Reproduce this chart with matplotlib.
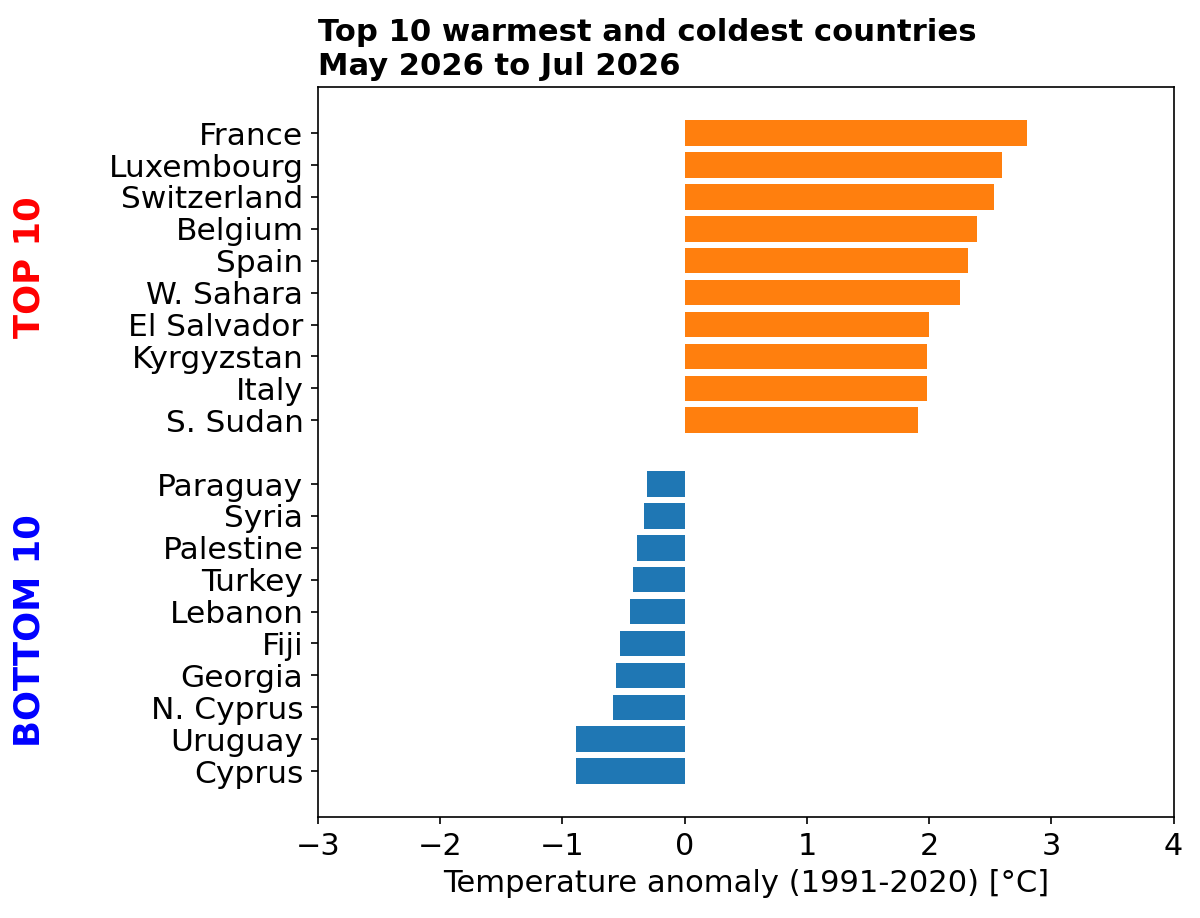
import matplotlib
matplotlib.use("Agg")
import matplotlib.pyplot as plt
import matplotlib.transforms as mtransforms
import numpy as np


top_countries = ["France", "Luxembourg", "Switzerland", "Belgium", "Spain",
                 "W. Sahara", "El Salvador", "Kyrgyzstan", "Italy", "S. Sudan"]
top_values = [2.80, 2.60, 2.53, 2.39, 2.32, 2.25, 2.00, 1.98, 1.98, 1.91]

bottom_countries = ["Paraguay", "Syria", "Palestine", "Turkey", "Lebanon",
                    "Fiji", "Georgia", "N. Cyprus", "Uruguay", "Cyprus"]
bottom_values = [-0.31, -0.33, -0.39, -0.42, -0.45, -0.53, -0.56, -0.59, -0.89, -0.89]

title = "Top 10 warmest and coldest countries\nMay 2026 to Jul 2026"
xlabel = "Temperature anomaly (1991-2020) [°C]"


def main():
    top_pos = np.arange(len(top_countries))
    bottom_pos = np.arange(len(bottom_countries)) + len(top_countries) + 1

    fig = plt.figure(figsize=(8, 6.12), dpi=150)
    ax = fig.add_axes([0.265, 0.110, 0.713, 0.795])

    ax.barh(top_pos, top_values, color="#ff7f0e")
    ax.barh(bottom_pos, bottom_values, color="#1f77b4")

    ax.set_yticks(np.concatenate([top_pos, bottom_pos]))
    ax.set_yticklabels(top_countries + bottom_countries)
    ax.invert_yaxis()
    ax.set_xlim(-3, 4)
    ax.set_xticks(np.arange(-3, 5))
    ax.tick_params(axis="x", labelsize=14.5)
    ax.tick_params(axis="y", labelsize=15)
    ax.set_xlabel(xlabel, fontsize=14.7)
    ax.set_title(title, loc="left", fontsize=14.7, fontweight="bold")

    # group labels on the far left
    trans = mtransforms.blended_transform_factory(fig.transFigure, ax.transData)
    ax.text(0.025, top_pos.mean() - 0.3, "TOP 10", transform=trans, rotation=90,
            color="red", fontsize=17, fontweight="bold", ha="center", va="center")
    ax.text(0.025, bottom_pos.mean() + 0.1, "BOTTOM 10", transform=trans, rotation=90,
            color="blue", fontsize=17, fontweight="bold", ha="center", va="center")

    fig.savefig("out.png", dpi=150)
    plt.close(fig)


if __name__ == "__main__":
    main()
